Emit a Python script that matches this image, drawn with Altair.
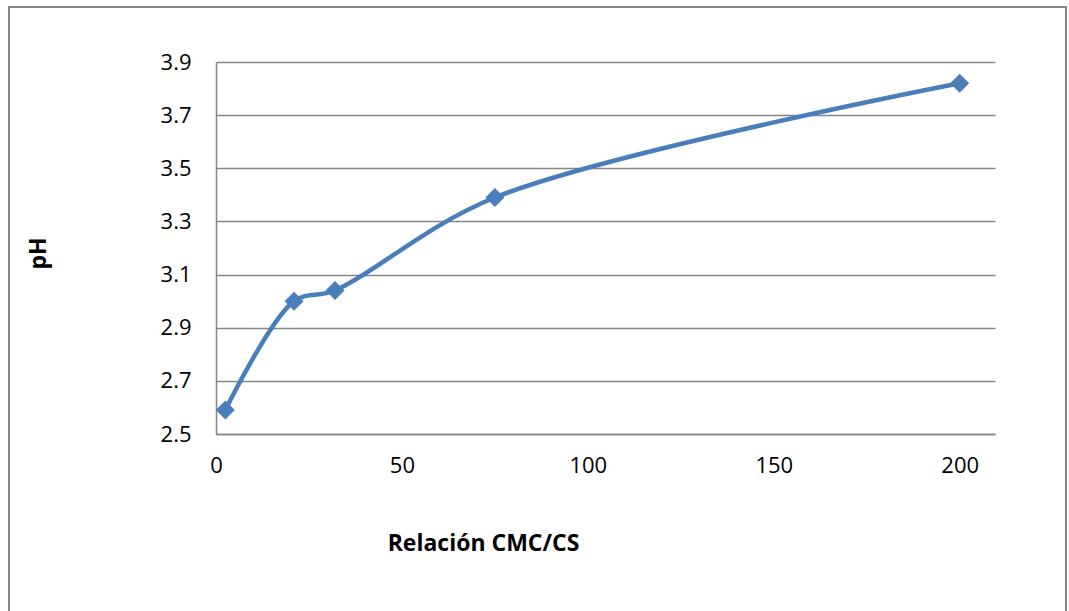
import altair as alt
import pandas as pd

relacion = [2.5, 21, 32, 75, 200]
ph = [2.59, 3.00, 3.04, 3.39, 3.82]
x_ticks = [0, 50, 100, 150, 200]
y_ticks = [2.5, 2.7, 2.9, 3.1, 3.3, 3.5, 3.7, 3.9]

df = pd.DataFrame({"relacion": relacion, "ph": ph})

FONT = "Open Sans"
BLUE = "#4a7ebb"
GREY = "#868686"

x_enc = alt.X(
    "relacion:Q",
    scale=alt.Scale(domain=[0, 209.5], nice=False, zero=False),
    axis=alt.Axis(
        values=x_ticks,
        title="Relación CMC/CS",
        grid=False,
        ticks=False,
        domainColor=GREY,
        domainWidth=1.5,
        labelFont=FONT,
        labelFontSize=22,
        labelColor="black",
        labelPadding=21,
        labelFlush=False,
        titleFont=FONT,
        titleFontSize=23,
        titleFontWeight="bold",
        titleColor="black",
        titleX=267,
        titleY=116,
        titleAlign="center",
        titleBaseline="alphabetic",
    ),
)
y_enc = alt.Y(
    "ph:Q",
    scale=alt.Scale(domain=[2.5, 3.9], nice=False, zero=False),
    axis=alt.Axis(
        values=y_ticks,
        format=".1f",
        title="pH",
        grid=True,
        gridColor=GREY,
        gridWidth=1.5,
        ticks=False,
        domainColor=GREY,
        domainWidth=1.5,
        labelFont=FONT,
        labelFontSize=22,
        labelColor="black",
        labelPadding=25,
        labelFlush=False,
        titleFont=FONT,
        titleFontSize=23,
        titleFontWeight="bold",
        titleColor="black",
        titleX=-178,
        titleY=191,
        titleAngle=270,
        titleAlign="center",
        titleBaseline="middle",
    ),
)

frame = alt.Chart(df).mark_rect(
    fill=None, stroke=GREY, strokeWidth=2, clip=False
).encode(
    x=alt.value(-207), x2=alt.value(850), y=alt.value(-55), y2=alt.value(560)
).transform_filter("datum.relacion == 200")

line = alt.Chart(df).mark_line(
    color=BLUE, strokeWidth=4.5, interpolate="catmull-rom"
).encode(x=x_enc, y=y_enc)

points = alt.Chart(df).mark_point(
    shape="diamond", filled=True, color=BLUE, size=360, opacity=1
).encode(x="relacion:Q", y="ph:Q")

chart = alt.layer(line, points, frame).properties(
    width=779,
    height=372,
    padding={"left": 216, "top": 62, "right": 74, "bottom": 177},
    autosize=alt.AutoSizeParams(type="none"),
    background="white",
).configure_view(stroke=None)

chart.save("out.html", embed_options={"renderer": "svg", "actions": False})
